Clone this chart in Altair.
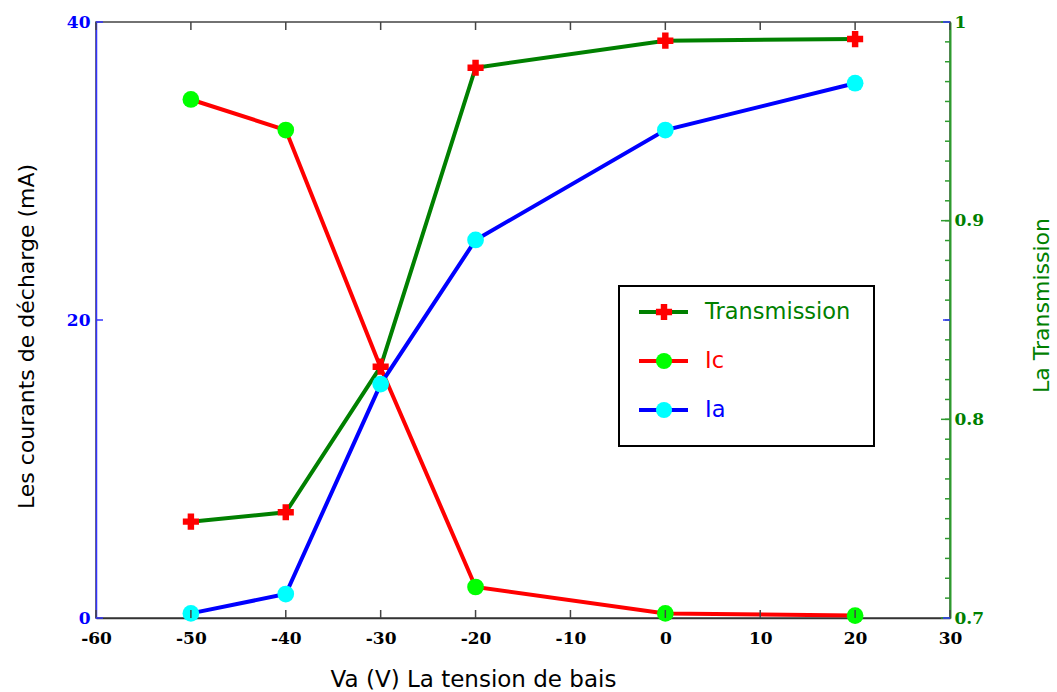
import altair as alt
import pandas as pd

# ---- data ----
va = [-50, -40, -30, -20, 0, 20]
transmission = [0.7485, 0.7532, 0.8265, 0.977, 0.9906, 0.9914]
ic = [34.8, 32.75, 16.8, 2.08, 0.31, 0.16]
ia = [0.31, 1.61, 15.7, 25.37, 32.75, 35.89]

x_ticks = [-60, -50, -40, -30, -20, -10, 0, 10, 20, 30]
left_ticks = [0, 20, 40]
right_labels = [0.7, 0.8, 0.9, 1.0]
right_minor = [round(0.70 + 0.01 * i, 2) for i in range(31)]
legend_names = ["Transmission", "Ic", "Ia"]

df = pd.DataFrame({"va": va, "transmission": transmission, "ic": ic, "ia": ia})
xt = pd.DataFrame({"va": x_ticks})
lt = pd.DataFrame({"v": left_ticks})
rmaj = pd.DataFrame({"v": right_labels})
rmin = pd.DataFrame({"v": right_minor})
leg = pd.DataFrame({"name": legend_names})

W, H = 854, 596
GREEN = "#008000"
AXGREEN = "#2e9b2e"
RED = "#ff0000"
BLUE = "#0000ff"
AXBLUE = "#3333ff"
LIME = "#00ff00"
CYAN = "#00ffff"

xscale = alt.Scale(domain=[-60, 30], nice=False, zero=False)
lscale = alt.Scale(domain=[0, 40], nice=False)
rscale = alt.Scale(domain=[0.7, 1.0], nice=False, zero=False)

x_axis = alt.Axis(values=x_ticks, labelExpr="'' + datum.value", labelColor="black",
                  labelFont="DejaVu Serif", labelFontWeight="bold", labelFontSize=17,
                  labelFlush=False, ticks=False, grid=False,
                  labelPadding=12, domainColor="#333333", domainWidth=1.5,
                  title="Va (V) La tension de bais", titleFont="DejaVu Sans",
                  titleFontSize=23, titleFontWeight="normal", titleColor="black",
                  titleX=377, titleY=68, titleAlign="center", titleBaseline="alphabetic")

left_axis = alt.Axis(orient="left", values=left_ticks, format="d", labelColor=BLUE,
                     labelFont="DejaVu Serif", labelFontWeight="bold", labelFontSize=17,
                     labelFlush=False, ticks=False, grid=False,
                     labelPadding=6, domainColor=AXBLUE, domainWidth=1.5,
                     title="Les courants de décharge (mA)", titleFont="DejaVu Sans",
                     titleFontSize=22, titleFontWeight="normal", titleColor="black",
                     titleX=-63, titleY=314, titleAngle=270, titleAlign="center",
                     titleBaseline="alphabetic")

right_axis = alt.Axis(orient="right", values=right_labels, format=".1~f", labelColor=GREEN,
                      labelFont="DejaVu Serif", labelFontWeight="bold", labelFontSize=17,
                      labelFlush=False, ticks=False, grid=False,
                      labelPadding=4, domainColor=AXGREEN, domainWidth=2,
                      title="La Transmission", titleFont="DejaVu Sans",
                      titleFontSize=22, titleFontWeight="normal", titleColor=GREEN,
                      titleX=98, titleY=283, titleAngle=270, titleAlign="center",
                      titleBaseline="alphabetic")

base = alt.Chart(df)
# every x encoding carries the same axis definition so that they merge into one axis
X = alt.X("va:Q", scale=xscale, axis=x_axis)


def yl(field, axis=None):
    return alt.Y(field, scale=lscale, axis=axis)


def yr(field, axis=None):
    return alt.Y(field, scale=rscale, axis=axis)


layers = []
# transmission (right scale)
layers.append(base.mark_line(color=GREEN, strokeWidth=4).encode(
    x=X, y=yr("transmission:Q", right_axis)))
layers.append(alt.Chart(rmin).mark_rule(color=AXGREEN, strokeWidth=1.5).encode(
    y=yr("v:Q"), x=alt.value(W - 5), x2=alt.value(W)))
layers.append(alt.Chart(rmaj).mark_rule(color=AXGREEN, strokeWidth=1.5).encode(
    y=yr("v:Q"), x=alt.value(W - 9), x2=alt.value(W)))
layers.append(base.mark_point(shape="cross", filled=True, size=260, color=RED, opacity=1).encode(
    x=X, y=yr("transmission:Q")))
# currents (left scale)
layers.append(base.mark_line(color=RED, strokeWidth=4).encode(
    x=X, y=yl("ic:Q", left_axis)))
layers.append(base.mark_line(color=BLUE, strokeWidth=4).encode(x=X, y=yl("ia:Q")))
layers.append(base.transform_filter(alt.datum.va != -30).mark_circle(
    size=280, color=LIME, opacity=1).encode(x=X, y=yl("ic:Q")))
layers.append(base.mark_circle(size=280, color=CYAN, opacity=1).encode(x=X, y=yl("ia:Q")))
# inward tick marks
layers.append(alt.Chart(xt).mark_rule(color="#444444", strokeWidth=1.5).encode(
    x=X, y=alt.value(H - 8), y2=alt.value(H)))
layers.append(alt.Chart(xt).mark_rule(color="#444444", strokeWidth=1.5).encode(
    x=X, y=alt.value(0), y2=alt.value(8)))
layers.append(alt.Chart(lt).mark_rule(color=AXBLUE, strokeWidth=1.5).encode(
    y=yl("v:Q"), x=alt.value(0), x2=alt.value(7)))
layers.append(alt.Chart(lt).mark_rule(color=AXBLUE, strokeWidth=1.5).encode(
    y=yl("v:Q"), x=alt.value(W - 7), x2=alt.value(W)))

# ---- legend ----
one = pd.DataFrame({"a": [0]})
layers.append(alt.Chart(one).mark_rect(fill="white", stroke="black", strokeWidth=2).encode(
    x=alt.value(523), x2=alt.value(778), y=alt.value(264), y2=alt.value(424)))


def legend_row(name, line_color, marker_color, shape, text_color, yy):
    b = alt.Chart(leg).transform_filter(alt.datum.name == name)
    ln = b.mark_rule(color=line_color, strokeWidth=4).encode(
        x=alt.value(543), x2=alt.value(592), y=alt.value(yy))
    mk = b.mark_point(shape=shape, filled=True, size=260, color=marker_color, opacity=1).encode(
        x=alt.value(568), y=alt.value(yy))
    tx = b.mark_text(align="left", baseline="middle", font="DejaVu Sans", fontSize=22.5,
                     color=text_color).encode(x=alt.value(609), y=alt.value(yy), text="name:N")
    return [ln, mk, tx]


layers += legend_row("Transmission", GREEN, RED, "cross", GREEN, 290)
layers += legend_row("Ic", RED, LIME, "circle", RED, 339)
layers += legend_row("Ia", BLUE, CYAN, "circle", BLUE, 388)

chart = alt.layer(*layers).resolve_scale(y="independent").properties(
    width=W, height=H,
    padding={"left": 96, "top": 22, "right": 107, "bottom": 74},
    autosize=alt.AutoSizeParams(type="none"),
    background="white",
).configure_view(stroke="#444444", strokeWidth=1.5)

chart.save("out.html", embed_options={"renderer": "svg", "actions": False})
